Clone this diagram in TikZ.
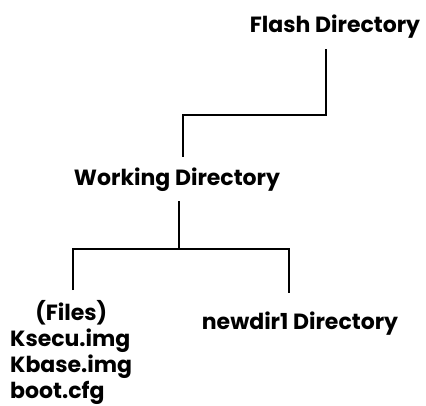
\documentclass[tikz,border=0pt]{standalone}
\usepackage{fontspec}
\setmainfont{Poppins}
\usepackage{tikz}

\begin{document}
\begin{tikzpicture}[x=1pt, y=-1pt,
  dirlabel/.style={font=\fontsize{22}{26}\selectfont\bfseries, inner sep=0pt},
  branch/.style={line width=1.6pt}]
  \useasboundingbox (0,0) rectangle (426,405);

  % directory names
  \node[dirlabel, anchor=base] (flash) at (335,32) {Flash Directory};
  \node[dirlabel, anchor=base] (work) at (177,185) {Working Directory};
  \node[dirlabel, anchor=north west] (files) at (10,300)
    {\begin{tabular}{@{}l@{}}\multicolumn{1}{@{}c@{}}{(Files)}\\ Ksecu.img\\ Kbase.img\\ boot.cfg\end{tabular}};
  \node[dirlabel, anchor=base] (newdir) at (300,329) {newdir1 Directory};

  % bends of the tree
  \coordinate (bend1) at (326,115);
  \coordinate (bend2) at (179,249);
  \coordinate (leftdrop) at (73,249);
  \coordinate (rightdrop) at (289,249);

  \draw[branch, shorten <=11pt, shorten >=10pt] (flash.south -| bend1) -- (bend1) -| ([xshift=6pt]work.north);
  \draw[branch, shorten <=10pt] (work.south -| bend2) -- (bend2);
  \draw[branch, shorten <=10pt, shorten >=18pt] (files.north -| leftdrop) -- (leftdrop) -- (rightdrop) -- (newdir.north -| rightdrop);
\end{tikzpicture}
\end{document}
